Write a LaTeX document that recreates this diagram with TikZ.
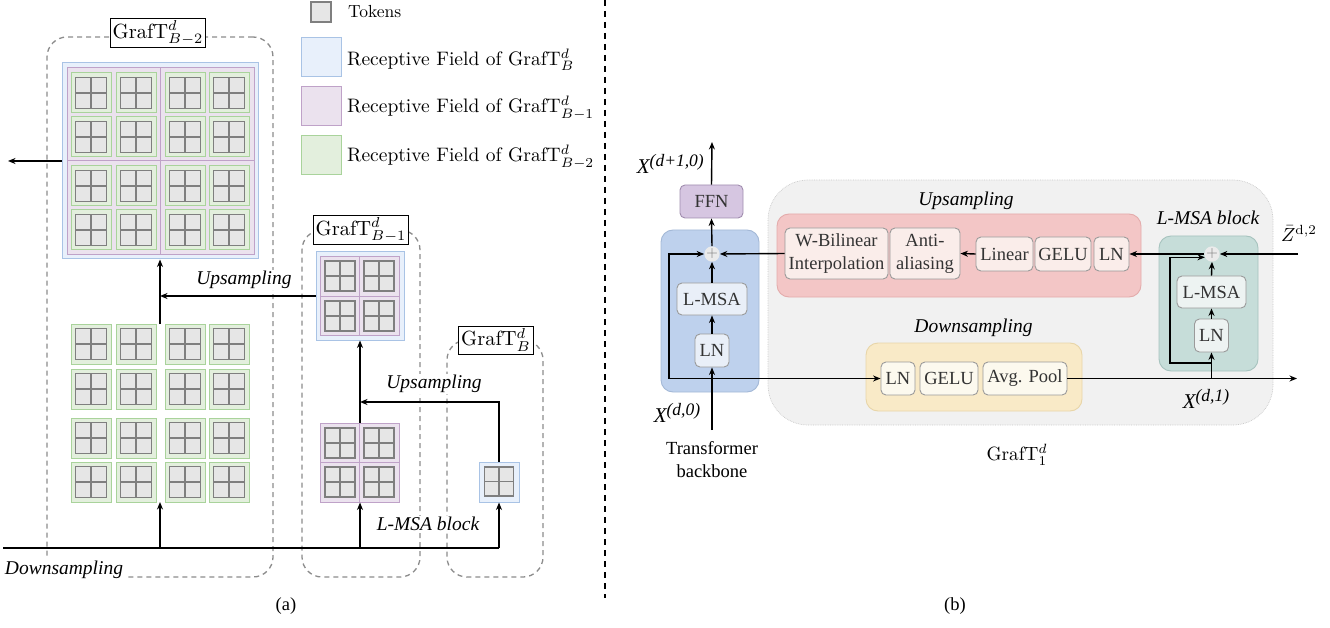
\RequirePackage{fix-cm}
\documentclass[tikz,border=0pt]{standalone}
\usepackage{graphicx}
\usepackage{fontspec}
\newfontfamily\timesf{Liberation Serif}
\usetikzlibrary{arrows.meta}
\definecolor{tokF}{HTML}{E6E6E6}
\definecolor{tokD}{HTML}{7F7F7F}
\definecolor{bluF}{HTML}{E8F0FB}
\definecolor{bluD}{HTML}{A9C3E5}
\definecolor{purF}{HTML}{EBE2EE}
\definecolor{purD}{HTML}{BFA2C8}
\definecolor{grnF}{HTML}{E3EFDD}
\definecolor{grnD}{HTML}{A9D39B}
\definecolor{dashG}{HTML}{8C8C8C}
\definecolor{ffnF}{HTML}{D6C6E1}
\definecolor{ffnD}{HTML}{A08DAE}
\definecolor{blkF}{HTML}{BED1ED}
\definecolor{blkD}{HTML}{A3B8D6}
\definecolor{inB}{HTML}{E9EFF8}
\definecolor{grayF}{HTML}{F1F1F1}
\definecolor{grayD}{HTML}{C8C8C8}
\definecolor{redF}{HTML}{F3C6C6}
\definecolor{redD}{HTML}{E3ABAB}
\definecolor{inR}{HTML}{FAEDEA}
\definecolor{tealF}{HTML}{C6DDD9}
\definecolor{tealD}{HTML}{A6C3BE}
\definecolor{inT}{HTML}{EDF3F2}
\definecolor{yelF}{HTML}{F9EAC7}
\definecolor{yelD}{HTML}{E8D5A8}
\definecolor{inY}{HTML}{FCF9EE}
\definecolor{boxD}{HTML}{9A9A9A}
\definecolor{txtD}{HTML}{333333}
\newcommand\myfs{\fontsize{18.5}{23}\selectfont}
\newcommand\itfs{\fontsize{19.5}{23}\selectfont}
\newcommand\lmS[2]{\scalebox{#1}{\fontsize{10}{12}\selectfont #2}}
\newcommand\xsup[1]{{\fontsize{21}{24}\selectfont X\raisebox{0.36em}{\fontsize{17.5}{18}\selectfont(#1)}}}
\newcommand\tokg[3]{%
  \draw[tokst, fill=tokF] (#1,#2) rectangle ++(#3,#3);
  \draw[tokst] (#1+#3/2,#2) -- ++(0,#3);
  \draw[tokst] (#1,#2+#3/2) -- ++(#3,0);}
\begin{document}
\begin{tikzpicture}[x=1pt,y=-1pt,
  tokst/.style={draw=tokD, line width=1.2pt},
  arr/.style={-{Stealth[length=7.5pt,width=6pt]}, line width=1.4pt},
  dbox/.style={draw=dashG, dash pattern=on 5pt off 4pt, line width=1.3pt, rounded corners=20pt, inner sep=0pt},
  lbl/.style={draw=black, fill=white, line width=0.8pt, inner sep=2.5pt},
  lgtxt/.style={anchor=west, inner sep=0pt},
  itl/.style={font=\timesf\itshape\itfs, inner sep=1pt},
  sq/.style={line width=1pt, inner sep=0pt},
  bx/.style={draw=boxD, line width=0.9pt, rounded corners=5pt, font=\timesf\myfs, text=txtD, inner sep=0pt, align=center},
  grp/.style={line width=0.9pt, inner sep=0pt, rounded corners=12pt},
  plus/.style={circle, fill=white!92!black, minimum size=14pt, inner sep=0pt, text=black!55, font=\fontsize{16}{16}\selectfont}
]
\useasboundingbox (0,0) rectangle (1330,628);

% ---------------- (a) ----------------
\node[dbox, minimum width=226, minimum height=540] (gB2) at (160,307) {};
\node[dbox, minimum width=118, minimum height=347] (gB1) at (361,403.5) {};
\node[dbox, minimum width=96, minimum height=237] (gB) at (495,458.5) {};
\node[lbl] (lB2) at (158,33) {\lmS{2.05}{GrafT$^d_{B-2}$}};
\node[lbl] (lB1) at (361,230) {\lmS{2.05}{GrafT$^d_{B-1}$}};
\node[lbl] (lB) at (496,340) {\lmS{2.05}{GrafT$^d_{B}$}};

\node[sq, draw=bluD, fill=bluF, minimum size=196] (rfB2) at (160,161) {};
\node[sq, draw=purD, fill=purF, minimum size=187] (pB2) at (160.5,161) {};
\draw[purD, line width=1pt] (160,67.5) -- (160,254.5) (67,161) -- (254,161);
\foreach \cx in {71,116,165,209} {
  \foreach \cy in {73,117,166,210} {
    \draw[grnD, fill=grnF, line width=1pt] (\cx,\cy) rectangle ++(40,40);
    \tokg{\cx+4.5}{\cy+4.5}{31}
  }
}
\coordinate (lowTop) at (160,324);
\coordinate (lowBot) at (160,502);
\foreach \cx in {71,116,165,209} {
  \foreach \cy in {324,369,418,462} {
    \draw[grnD, fill=grnF, line width=1pt] (\cx,\cy) rectangle ++(40,40);
    \tokg{\cx+4.5}{\cy+4.5}{31}
  }
}
\node[sq, draw=bluD, fill=bluF, minimum size=88] (rfB1) at (360,296) {};
\node[sq, draw=purD, fill=purF, minimum size=79] (pB1) at (359.5,296) {};
\draw[purD, line width=1pt] (359.5,256.5) -- (359.5,335.5) (320,296) -- (399,296);
\foreach \cx in {325,364} {
  \foreach \cy in {261,301} {
    \tokg{\cx}{\cy}{30}
  }
}
\node[sq, draw=purD, fill=purF, minimum size=79] (pB1low) at (359.5,462.5) {};
\draw[purD, line width=1pt] (359.5,423) -- (359.5,502) (320,462.5) -- (399,462.5);
\foreach \cx in {325,364} {
  \foreach \cy in {428,467} {
    \tokg{\cx}{\cy}{30}
  }
}
\node[sq, draw=bluD, fill=bluF, minimum size=40] (rfB) at (499,482) {};
\tokg{484.5}{467}{29}

\coordinate (outL) at (8,161);
\coordinate (dsL) at (3,548);
\coordinate (dsR) at (499,548);
\coordinate (j1) at (160,548);
\coordinate (j2) at (360,548);
\coordinate (upJ) at (160,296);
\coordinate (up2) at (499,402);
\coordinate (up2J) at (360,402);
\node[itl, fill=white] (uplab1) at (244,280) {Upsampling};
\node[itl, fill=white] (uplab2) at (434,384) {Upsampling};
\node[itl, fill=white] (lmsalab) at (428,524) {L-MSA block};
\node[itl, fill=white, inner sep=4pt] (dslab) at (64,570) {Downsampling};
\draw[arr] (rfB2.west) -- (outL);
\draw[arr] (lowTop) -- (rfB2.south);
\draw[arr] (rfB1.west) -- (upJ);
\draw[line width=1.4pt] (dsL) -- (dsR);
\draw[arr] (j1) -- (lowBot);
\draw[arr] (j2) -- (pB1low.south -| j2);
\draw[arr] (dsR) -- (rfB.south);
\draw[arr] (pB1low.north -| j2) -- (rfB1.south -| j2);
\draw[arr] (rfB.north) -- (up2) -- (up2J);
\node[font=\timesf\myfs] (capA) at (286,606) {(a)};

% legend
\node[draw=tokD, fill=tokF, line width=1.2pt, minimum size=20, inner sep=0pt] (legT) at (321,12) {};
\node[lgtxt] (legTt) at (348,12) {\lmS{1.75}{Tokens}};
\node[sq, draw=bluD, fill=bluF, minimum width=40, minimum height=39] (legB) at (321,57.5) {};
\node[lgtxt] (legBt) at (347,60) {\lmS{1.95}{Receptive Field of GrafT$^d_B$}};
\node[sq, draw=purD, fill=purF, minimum width=40, minimum height=39] (legP) at (321,106.5) {};
\node[lgtxt] (legPt) at (347,108) {\lmS{1.95}{Receptive Field of GrafT$^d_{B-1}$}};
\node[sq, draw=grnD, fill=grnF, minimum width=40, minimum height=39] (legG) at (321,155.5) {};
\node[lgtxt] (legGt) at (347,157) {\lmS{1.95}{Receptive Field of GrafT$^d_{B-2}$}};

\draw[line width=2.2pt, dash pattern=on 6pt off 5pt] (605,0) -- (605,598);

% ---------------- (b) ----------------
\node[draw=grayD, fill=grayF, densely dotted, line width=0.7pt, rounded corners=40pt, minimum width=505, minimum height=245, inner sep=0pt] (gray) at (1020.5,302.5) {};
\node[grp, draw=redD, fill=redF, minimum width=364, minimum height=83] (upbox) at (959,255.5) {};
\node[grp, draw=tealD, fill=tealF, minimum width=99, minimum height=135] (lmsabox) at (1208.5,303.5) {};
\node[grp, draw=yelD, fill=yelF, minimum width=216, minimum height=68] (dnbox) at (974,377) {};
\node[grp, draw=blkD, fill=blkF, minimum width=98, minimum height=162] (blk) at (710,311) {};

\node[bx, fill=ffnF, draw=ffnD, minimum width=63, minimum height=33] (ffn) at (711.5,201.5) {FFN};
\node[plus] (p1) at (712,254) {+};
\node[bx, fill=inB, minimum width=70, minimum height=32] (lmsa1) at (712,299) {L-MSA};
\node[bx, fill=inB, minimum width=34, minimum height=33] (ln1) at (712,350.5) {LN};

\node[bx, fill=inR, minimum width=103, minimum height=51] (wbi) at (836.5,253.5) {W-Bilinear\\Interpolation};
\node[bx, fill=inR, minimum width=70, minimum height=51] (anti) at (925,253.5) {Anti-\\aliasing};
\node[bx, fill=inR, minimum width=57, minimum height=34] (lin) at (1004.5,254) {Linear};
\node[bx, fill=inR, minimum width=56, minimum height=34] (gelu1) at (1063,254) {GELU};
\node[bx, fill=inR, minimum width=35, minimum height=34] (ln2) at (1111.5,254) {LN};

\node[plus] (p2) at (1212,254) {+};
\node[bx, fill=inT, minimum width=69, minimum height=32] (lmsa2) at (1211.5,292) {L-MSA};
\node[bx, fill=inT, minimum width=34, minimum height=33] (ln3) at (1211.5,335.5) {LN};

\node[bx, fill=inY, minimum width=34, minimum height=33] (ln4) at (898,378.5) {LN};
\node[bx, fill=inY, minimum width=58, minimum height=33] (gelu2) at (949,378.5) {GELU};
\node[bx, fill=inY, minimum width=84, minimum height=33] (pool) at (1025,378.5) {Avg. Pool};

\node[itl] (upl) at (966,201) {Upsampling};
\node[itl] (lmsal) at (1208,218) {L-MSA block};
\node[itl] (dnl) at (973.5,328) {Downsampling};

\node[font=\timesf\itshape, anchor=east, inner sep=0pt] (xout) at (704,164) {\xsup{d+1,0}};
\node[font=\timesf\itshape, inner sep=0pt] (xin) at (677,413) {\xsup{d,0}};
\node[font=\timesf\itshape, inner sep=0pt] (x1) at (1206,399) {\xsup{d,1}};
\node[font=\timesf\myfs, align=center, inner sep=0pt] (tb) at (712,460) {Transformer\\backbone};
\node[inner sep=0pt] (g1) at (1017,455) {\lmS{1.92}{GrafT$^d_1$}};
\node[inner sep=0pt] (zl) at (1299,233) {\lmS{1.9}{$\bar{Z}^{\mathrm{d,2}}$}};
\node[font=\timesf\myfs] (capB) at (955,606) {(b)};

\coordinate (inB) at (712,430);
\coordinate (outT) at (712,142);
\coordinate (rc) at (669,378.5);
\coordinate (zin) at (1298,254);
\coordinate (mEnd) at (1297,378.5);
\coordinate (mJ) at (1211.5,378.5);
\coordinate (rJ) at (1211.5,363);
\coordinate (rL) at (1170,363);

\draw[arr] (inB) -- (ln1.south);
\draw[arr] (ln1.north) -- (lmsa1.south);
\draw[arr] (lmsa1.north) -- (p1.south);
\draw[arr] (p1.north) -- (ffn.south);
\draw[arr] (ffn.north) -- (outT);
\draw[{Stealth[length=7.5pt,width=6pt]}-{Stealth[length=7.5pt,width=6pt]}, line width=1.4pt] (p1.west) -| (rc) -- (ln4.west);
\draw[arr] (wbi.west) -- (p1.east);
\draw[arr] (lin.west) -- (anti.east);
\draw[arr] (p2.west) -- (ln2.east);
\draw[arr] (zin) -- (p2.east);
\draw[arr] (lmsa2.north) -- (p2.south);
\draw[arr] (ln3.north) -- (lmsa2.south);
\draw[arr] (pool.east) -- (mEnd);
\draw[arr] (mJ) -- (ln3.south);
\draw[arr] (rJ) -- (rL) |- (p2.205);
\end{tikzpicture}
\end{document}
